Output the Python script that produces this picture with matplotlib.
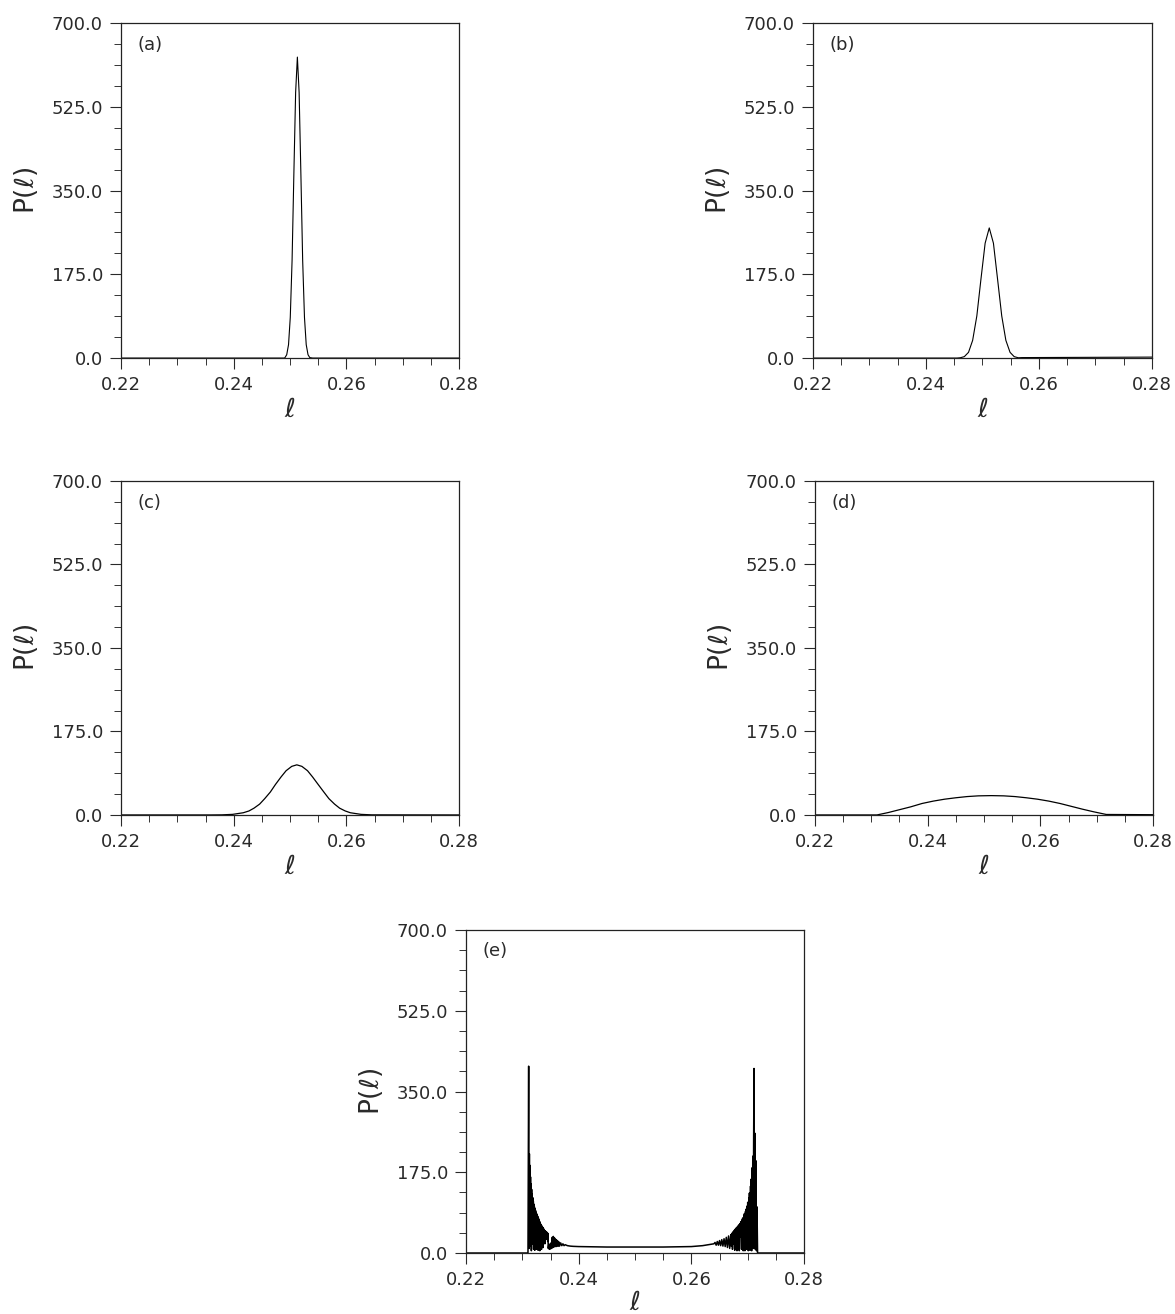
import matplotlib
matplotlib.use('Agg')
import matplotlib.pyplot as plt
from matplotlib.ticker import MultipleLocator, FormatStrFormatter

# axis ticks (same on every panel)
x_ticks = [0.22, 0.24, 0.26, 0.28]
y_ticks = [0.0, 175.0, 350.0, 525.0, 700.0]
panel_labels = ['(a)', '(b)', '(c)', '(d)', '(e)']

# (a) narrow peak
a_l = [0.2200, 0.2490, 0.24910, 0.24941, 0.24973, 0.25004, 0.25036, 0.25067, 0.25099,
       0.2513, 0.25161, 0.25193, 0.25224, 0.25256, 0.25287, 0.25319, 0.2535, 0.2540, 0.2800]
a_p = [0, 0, 1, 7, 28, 85, 204, 381, 555,
       629, 555, 381, 204, 85, 28, 7, 1, 0, 0]

# (b)
b_l = [0.2200, 0.2455, 0.24606, 0.24679, 0.24753, 0.24826, 0.24900, 0.24973, 0.25047,
       0.2512, 0.25194, 0.25267, 0.25341, 0.25414, 0.25488, 0.25561, 0.25635, 0.2570, 0.2800]
b_p = [0, 0, 0.6, 3, 12, 37, 88, 165, 240,
       272, 240, 165, 88, 37, 12, 3, 0.6, 1, 2]

# (c)
c_l = [0.2200, 0.2360, 0.2379, 0.2398, 0.2417, 0.2427, 0.2436, 0.2446, 0.2455, 0.2465,
       0.2474, 0.2484, 0.2493, 0.2503, 0.2512, 0.2521, 0.2531, 0.2540, 0.2550, 0.2560,
       0.2569, 0.2579, 0.2588, 0.2598, 0.2607, 0.2626, 0.2645, 0.2800]
c_p = [0, 0, 0.2, 1.2, 4.6, 8.3, 14.2, 22.7, 34.1, 48.0,
       63.7, 79.6, 92.7, 101.8, 105, 101.8, 92.7, 79.6, 63.7, 48.0,
       34.1, 22.7, 14.2, 8.3, 4.6, 1.2, 0.2, 0]

# (d) broad dome
d_l = [0.2200, 0.2310, 0.2330, 0.2350, 0.2370, 0.2390, 0.2410, 0.2430, 0.2450, 0.2470,
       0.2490, 0.2513, 0.2535, 0.2555, 0.2575, 0.2595, 0.2615, 0.2635, 0.2655, 0.2675,
       0.2695, 0.2717, 0.2800]
d_p = [0, 0, 5, 11, 17, 24, 29, 33, 36, 38.5,
       40, 40.5, 40, 38.5, 36, 33, 29, 24, 18, 12,
       6.5, 1, 0.5]

# (e) oscillating distribution with edge spikes
e_l = [0.2200, 0.2310, 0.23112, 0.23118, 0.23125, 0.23130, 0.23135, 0.23140, 0.23145, 0.23150,
       0.23155, 0.23160, 0.23165, 0.23170, 0.23175, 0.23180, 0.23185, 0.23190, 0.23195, 0.23200,
       0.23205, 0.23210, 0.23215, 0.23220, 0.23225, 0.23230, 0.23235, 0.23240, 0.23245, 0.23250,
       0.23255, 0.23260, 0.23265, 0.23270, 0.23275, 0.23280, 0.23285, 0.23290, 0.23295, 0.23300,
       0.23305, 0.23310, 0.23315, 0.23320, 0.23325, 0.23330, 0.23335, 0.23340, 0.23345, 0.23350,
       0.23355, 0.23360, 0.23365, 0.23370, 0.23375, 0.23380, 0.23385, 0.23390, 0.23395, 0.23400,
       0.23405, 0.23410, 0.23415, 0.23420, 0.23425, 0.23430, 0.23435, 0.23440, 0.23445, 0.23450,
       0.23455, 0.23460, 0.23470, 0.23480, 0.23490, 0.23500, 0.23510, 0.23520, 0.23530, 0.23540,
       0.23550, 0.23560, 0.23570, 0.23580, 0.23590, 0.23600, 0.23610, 0.23620, 0.23630, 0.23640,
       0.23650, 0.23660, 0.23680, 0.23700, 0.23720, 0.23740, 0.23760, 0.23800, 0.23850, 0.23900,
       0.2400, 0.2450, 0.2500, 0.2550, 0.2600, 0.2620, 0.2630, 0.2640,
       0.26420, 0.26440, 0.26460, 0.26480, 0.26500, 0.26520, 0.26540, 0.26560, 0.26580, 0.26600,
       0.26620, 0.26640, 0.26660, 0.26680, 0.26700, 0.26710, 0.26720, 0.26730, 0.26740, 0.26750,
       0.26760, 0.26770, 0.26780, 0.26790, 0.26800, 0.26810, 0.26820, 0.26830, 0.26840, 0.26850,
       0.26860, 0.26870, 0.26880, 0.26890, 0.26900, 0.26905, 0.26910, 0.26920, 0.26930, 0.26935,
       0.26940, 0.26950, 0.26960, 0.26965, 0.26970, 0.26980, 0.26990, 0.26995, 0.27000, 0.27010,
       0.27020, 0.27025, 0.27030, 0.27040, 0.27050, 0.27055, 0.27060, 0.27070, 0.27080, 0.27085,
       0.27090, 0.27100, 0.27105, 0.27112, 0.27118, 0.27125, 0.27135, 0.27145, 0.27155, 0.27165,
       0.27175, 0.2800]
e_p = [0, 0, 405, 10, 215, 40, 190, 15, 165, 60,
       150, 5, 138, 70, 128, 20, 120, 55, 112, 8,
       106, 45, 100, 6, 96, 35, 92, 30, 88, 8,
       85, 40, 82, 20, 79, 6, 76, 35, 72, 25,
       69, 5, 66, 30, 63, 22, 61, 8, 59, 28,
       57, 30, 55, 12, 53, 30, 51, 35, 49, 20,
       48, 32, 47, 38, 46, 30, 45, 40, 44, 25,
       42, 10, 20, 8, 15, 9, 22, 10, 34, 12,
       36, 13, 33, 14, 30, 14, 28, 15, 26, 15,
       24, 15, 22, 16, 20, 16, 18, 16, 15, 14.5,
       14, 13, 13, 13, 14, 16, 18, 20,
       23, 17, 25, 17, 27, 16, 29, 15, 31, 14,
       34, 12, 37, 10, 40, 15, 43, 8, 46, 20,
       49, 6, 52, 25, 55, 5, 58, 30, 61, 5,
       64, 35, 68, 8, 72, 40, 76, 5, 80, 30,
       85, 5, 90, 45, 95, 8, 102, 40, 110, 5,
       120, 50, 130, 6, 145, 40, 160, 5, 185, 60,
       210, 10, 240, 400, 20, 260, 8, 200, 5, 100,
       0, 0]

curves = [(a_l, a_p, 0.8), (b_l, b_p, 0.8), (c_l, c_p, 0.9), (d_l, d_p, 0.9), (e_l, e_p, 1.1)]

# axes boxes in figure fractions [left, bottom, width, height]
boxes = [[0.1030, 0.7275, 0.2877, 0.2549],
         [0.6919, 0.7275, 0.2885, 0.2549],
         [0.1030, 0.3798, 0.2877, 0.2542],
         [0.6936, 0.3798, 0.2877, 0.2542],
         [0.3966, 0.0464, 0.2877, 0.2458]]

fig = plt.figure(figsize=(11.75, 13.14), dpi=100)

for box, (l, p, lw), lab in zip(boxes, curves, panel_labels):
    ax = fig.add_axes(box)
    ax.plot(l, p, color='black', lw=lw)
    ax.set_xlim(0.22, 0.28)
    ax.set_ylim(0, 700)
    ax.set_xticks(x_ticks)
    ax.set_yticks(y_ticks)
    ax.xaxis.set_minor_locator(MultipleLocator(0.005))
    ax.yaxis.set_minor_locator(MultipleLocator(43.75))
    ax.xaxis.set_major_formatter(FormatStrFormatter('%.2f'))
    ax.yaxis.set_major_formatter(FormatStrFormatter('%.1f'))
    ax.tick_params(which='major', direction='out', length=8, width=0.8,
                   labelsize=13, pad=5, colors='#2a2a2a')
    ax.tick_params(which='minor', direction='out', length=5, width=0.7, colors='#333333')
    for s in ax.spines.values():
        s.set_linewidth(0.9)
        s.set_color('#222222')
    ax.set_ylabel(r'P$(\ell)$', fontsize=19, color='#2a2a2a')
    ax.yaxis.set_label_coords(-0.24, 0.5)
    ax.set_xlabel(r'$\ell$', fontsize=19, color='#2a2a2a')
    ax.xaxis.set_label_coords(0.5, -0.115)
    ax.text(0.05, 0.935, lab, transform=ax.transAxes, fontsize=13,
            ha='left', va='center', color='#2a2a2a')

fig.savefig('out.png', dpi=100)
